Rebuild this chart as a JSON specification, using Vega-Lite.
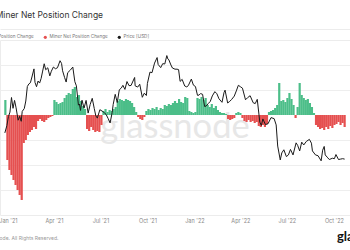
{
  "$schema": "https://vega.github.io/schema/vega-lite/v6.json",
  "width": 350,
  "height": 175,
  "autosize": {"type": "none"},
  "padding": {"top": 40, "left": 0, "right": 0, "bottom": 35},
  "background": "white",
  "config": {"view": {"stroke": "#ececec", "strokeWidth": 1}},
  "datasets": {
    "bars": [
      {"date": "2020-12-27", "change": 3750},
      {"date": "2020-12-31", "change": -11250},
      {"date": "2021-01-04", "change": -13750},
      {"date": "2021-01-08", "change": -15000},
      {"date": "2021-01-12", "change": -16250},
      {"date": "2021-01-16", "change": -17500},
      {"date": "2021-01-20", "change": -18750},
      {"date": "2021-01-24", "change": -20000},
      {"date": "2021-01-28", "change": -21250},
      {"date": "2021-02-01", "change": -7000},
      {"date": "2021-02-05", "change": -6250},
      {"date": "2021-02-09", "change": -5000},
      {"date": "2021-02-13", "change": -4250},
      {"date": "2021-02-17", "change": -3750},
      {"date": "2021-02-21", "change": -3000},
      {"date": "2021-02-25", "change": -3500},
      {"date": "2021-03-01", "change": -1500},
      {"date": "2021-03-05", "change": -1000},
      {"date": "2021-03-09", "change": -1500},
      {"date": "2021-03-13", "change": -1750},
      {"date": "2021-03-17", "change": -1250},
      {"date": "2021-03-21", "change": -750},
      {"date": "2021-03-25", "change": -500},
      {"date": "2021-03-29", "change": -250},
      {"date": "2021-04-02", "change": 3750},
      {"date": "2021-04-06", "change": 3250},
      {"date": "2021-04-10", "change": 2750},
      {"date": "2021-04-14", "change": 3000},
      {"date": "2021-04-18", "change": 3250},
      {"date": "2021-04-22", "change": 4250},
      {"date": "2021-04-26", "change": 5000},
      {"date": "2021-04-30", "change": 5500},
      {"date": "2021-05-04", "change": 5250},
      {"date": "2021-05-08", "change": 6500},
      {"date": "2021-05-12", "change": 7000},
      {"date": "2021-05-16", "change": 4500},
      {"date": "2021-05-20", "change": 5000},
      {"date": "2021-05-24", "change": 3500},
      {"date": "2021-05-28", "change": 2250},
      {"date": "2021-06-01", "change": 1500},
      {"date": "2021-06-05", "change": -3500},
      {"date": "2021-06-09", "change": -4000},
      {"date": "2021-06-13", "change": -3000},
      {"date": "2021-06-17", "change": -3750},
      {"date": "2021-06-21", "change": -4250},
      {"date": "2021-06-25", "change": -4000},
      {"date": "2021-06-29", "change": -4250},
      {"date": "2021-07-03", "change": -2500},
      {"date": "2021-07-07", "change": 1000},
      {"date": "2021-07-11", "change": 1500},
      {"date": "2021-07-15", "change": 750},
      {"date": "2021-07-19", "change": 1250},
      {"date": "2021-07-23", "change": 1000},
      {"date": "2021-07-27", "change": 1500},
      {"date": "2021-07-31", "change": 2000},
      {"date": "2021-08-04", "change": 3500},
      {"date": "2021-08-08", "change": 4000},
      {"date": "2021-08-12", "change": 3750},
      {"date": "2021-08-16", "change": 3500},
      {"date": "2021-08-20", "change": 4000},
      {"date": "2021-08-24", "change": 3750},
      {"date": "2021-08-28", "change": 3500},
      {"date": "2021-09-01", "change": 3000},
      {"date": "2021-09-05", "change": 2000},
      {"date": "2021-09-09", "change": 750},
      {"date": "2021-09-13", "change": -500},
      {"date": "2021-09-17", "change": -1000},
      {"date": "2021-09-21", "change": -1250},
      {"date": "2021-09-25", "change": -500},
      {"date": "2021-09-29", "change": 1000},
      {"date": "2021-10-03", "change": 1500},
      {"date": "2021-10-07", "change": 1250},
      {"date": "2021-10-11", "change": 1750},
      {"date": "2021-10-15", "change": 1500},
      {"date": "2021-10-19", "change": 2000},
      {"date": "2021-10-23", "change": 1250},
      {"date": "2021-10-27", "change": 1750},
      {"date": "2021-10-31", "change": 1500},
      {"date": "2021-11-04", "change": 2500},
      {"date": "2021-11-08", "change": 2250},
      {"date": "2021-11-12", "change": 2750},
      {"date": "2021-11-16", "change": 2500},
      {"date": "2021-11-20", "change": 3000},
      {"date": "2021-11-24", "change": 3500},
      {"date": "2021-11-28", "change": 3000},
      {"date": "2021-12-02", "change": 4000},
      {"date": "2021-12-06", "change": 3250},
      {"date": "2021-12-10", "change": 3000},
      {"date": "2021-12-14", "change": 4500},
      {"date": "2021-12-18", "change": 4250},
      {"date": "2021-12-22", "change": 1000},
      {"date": "2021-12-26", "change": 750},
      {"date": "2021-12-30", "change": 500},
      {"date": "2022-01-03", "change": 750},
      {"date": "2022-01-07", "change": 4250},
      {"date": "2022-01-11", "change": 4000},
      {"date": "2022-01-15", "change": 4500},
      {"date": "2022-01-19", "change": 3750},
      {"date": "2022-01-23", "change": 4250},
      {"date": "2022-01-27", "change": 2500},
      {"date": "2022-01-31", "change": 2000},
      {"date": "2022-02-04", "change": 2750},
      {"date": "2022-02-08", "change": 1750},
      {"date": "2022-02-12", "change": 2250},
      {"date": "2022-02-16", "change": 1250},
      {"date": "2022-02-20", "change": 750},
      {"date": "2022-02-24", "change": 500},
      {"date": "2022-02-28", "change": 500},
      {"date": "2022-03-04", "change": 250},
      {"date": "2022-03-08", "change": -1000},
      {"date": "2022-03-12", "change": -1250},
      {"date": "2022-03-16", "change": -1000},
      {"date": "2022-03-20", "change": -750},
      {"date": "2022-03-24", "change": 500},
      {"date": "2022-03-28", "change": 750},
      {"date": "2022-04-01", "change": 500},
      {"date": "2022-04-05", "change": -750},
      {"date": "2022-04-09", "change": -1500},
      {"date": "2022-04-13", "change": -1750},
      {"date": "2022-04-17", "change": -1250},
      {"date": "2022-04-21", "change": -1750},
      {"date": "2022-04-25", "change": -1500},
      {"date": "2022-04-29", "change": -2000},
      {"date": "2022-05-03", "change": -1750},
      {"date": "2022-05-07", "change": -2750},
      {"date": "2022-05-11", "change": -3000},
      {"date": "2022-05-15", "change": -2500},
      {"date": "2022-05-19", "change": -3000},
      {"date": "2022-05-23", "change": -2250},
      {"date": "2022-05-27", "change": 750},
      {"date": "2022-05-31", "change": 1000},
      {"date": "2022-06-04", "change": 1250},
      {"date": "2022-06-08", "change": 1750},
      {"date": "2022-06-12", "change": 2500},
      {"date": "2022-06-16", "change": 8000},
      {"date": "2022-06-20", "change": 3500},
      {"date": "2022-06-24", "change": 3750},
      {"date": "2022-06-28", "change": 3250},
      {"date": "2022-07-02", "change": 4250},
      {"date": "2022-07-06", "change": 5500},
      {"date": "2022-07-10", "change": 4000},
      {"date": "2022-07-14", "change": 2500},
      {"date": "2022-07-18", "change": -750},
      {"date": "2022-07-22", "change": 2000},
      {"date": "2022-07-26", "change": 8000},
      {"date": "2022-07-30", "change": 5000},
      {"date": "2022-08-03", "change": 4250},
      {"date": "2022-08-07", "change": 3750},
      {"date": "2022-08-11", "change": 4000},
      {"date": "2022-08-15", "change": 3000},
      {"date": "2022-08-19", "change": 2000},
      {"date": "2022-08-23", "change": 500},
      {"date": "2022-08-27", "change": -2500},
      {"date": "2022-08-31", "change": -3000},
      {"date": "2022-09-04", "change": -3500},
      {"date": "2022-09-08", "change": -3250},
      {"date": "2022-09-12", "change": -3750},
      {"date": "2022-09-16", "change": -3000},
      {"date": "2022-09-20", "change": -3500},
      {"date": "2022-09-24", "change": -2750},
      {"date": "2022-09-28", "change": -3250},
      {"date": "2022-10-02", "change": -2500},
      {"date": "2022-10-06", "change": -2250},
      {"date": "2022-10-10", "change": -1750},
      {"date": "2022-10-14", "change": -2500},
      {"date": "2022-10-18", "change": -2000},
      {"date": "2022-10-22", "change": -3000}
    ],
    "price": [
      {"date": "2020-12-26", "price": 26400},
      {"date": "2020-12-30", "price": 28900},
      {"date": "2021-01-02", "price": 32200},
      {"date": "2021-01-05", "price": 34000},
      {"date": "2021-01-08", "price": 40600},
      {"date": "2021-01-11", "price": 35600},
      {"date": "2021-01-14", "price": 39200},
      {"date": "2021-01-17", "price": 35800},
      {"date": "2021-01-21", "price": 30800},
      {"date": "2021-01-24", "price": 32300},
      {"date": "2021-01-27", "price": 30400},
      {"date": "2021-01-29", "price": 34300},
      {"date": "2021-02-02", "price": 35500},
      {"date": "2021-02-05", "price": 38900},
      {"date": "2021-02-08", "price": 46400},
      {"date": "2021-02-11", "price": 47900},
      {"date": "2021-02-14", "price": 48600},
      {"date": "2021-02-17", "price": 52100},
      {"date": "2021-02-21", "price": 57500},
      {"date": "2021-02-23", "price": 48800},
      {"date": "2021-02-26", "price": 46300},
      {"date": "2021-03-01", "price": 49600},
      {"date": "2021-03-04", "price": 48400},
      {"date": "2021-03-07", "price": 51200},
      {"date": "2021-03-10", "price": 56000},
      {"date": "2021-03-13", "price": 61200},
      {"date": "2021-03-16", "price": 56900},
      {"date": "2021-03-20", "price": 58300},
      {"date": "2021-03-24", "price": 52800},
      {"date": "2021-03-27", "price": 55900},
      {"date": "2021-03-31", "price": 58800},
      {"date": "2021-04-04", "price": 57600},
      {"date": "2021-04-08", "price": 58300},
      {"date": "2021-04-13", "price": 63500},
      {"date": "2021-04-16", "price": 61400},
      {"date": "2021-04-18", "price": 56200},
      {"date": "2021-04-22", "price": 51700},
      {"date": "2021-04-25", "price": 49000},
      {"date": "2021-04-28", "price": 54900},
      {"date": "2021-05-03", "price": 56600},
      {"date": "2021-05-08", "price": 58800},
      {"date": "2021-05-12", "price": 49200},
      {"date": "2021-05-15", "price": 46800},
      {"date": "2021-05-19", "price": 37000},
      {"date": "2021-05-21", "price": 37500},
      {"date": "2021-05-23", "price": 34700},
      {"date": "2021-05-26", "price": 39300},
      {"date": "2021-05-30", "price": 35700},
      {"date": "2021-06-03", "price": 39200},
      {"date": "2021-06-07", "price": 33600},
      {"date": "2021-06-11", "price": 37300},
      {"date": "2021-06-15", "price": 40200},
      {"date": "2021-06-19", "price": 35500},
      {"date": "2021-06-22", "price": 32500},
      {"date": "2021-06-25", "price": 31600},
      {"date": "2021-06-30", "price": 35000},
      {"date": "2021-07-06", "price": 34200},
      {"date": "2021-07-12", "price": 33100},
      {"date": "2021-07-16", "price": 31500},
      {"date": "2021-07-20", "price": 29800},
      {"date": "2021-07-24", "price": 33800},
      {"date": "2021-07-26", "price": 37300},
      {"date": "2021-07-30", "price": 42200},
      {"date": "2021-08-03", "price": 38200},
      {"date": "2021-08-07", "price": 44600},
      {"date": "2021-08-11", "price": 45600},
      {"date": "2021-08-14", "price": 47100},
      {"date": "2021-08-18", "price": 44800},
      {"date": "2021-08-22", "price": 49300},
      {"date": "2021-08-26", "price": 46900},
      {"date": "2021-08-30", "price": 47000},
      {"date": "2021-09-06", "price": 51800},
      {"date": "2021-09-07", "price": 46800},
      {"date": "2021-09-12", "price": 46100},
      {"date": "2021-09-16", "price": 47700},
      {"date": "2021-09-21", "price": 40700},
      {"date": "2021-09-25", "price": 42800},
      {"date": "2021-09-29", "price": 41600},
      {"date": "2021-10-01", "price": 48200},
      {"date": "2021-10-06", "price": 55300},
      {"date": "2021-10-10", "price": 54900},
      {"date": "2021-10-15", "price": 61700},
      {"date": "2021-10-20", "price": 66000},
      {"date": "2021-10-22", "price": 60700},
      {"date": "2021-10-27", "price": 58400},
      {"date": "2021-10-31", "price": 61300},
      {"date": "2021-11-04", "price": 61000},
      {"date": "2021-11-08", "price": 67600},
      {"date": "2021-11-10", "price": 64900},
      {"date": "2021-11-12", "price": 64200},
      {"date": "2021-11-16", "price": 60300},
      {"date": "2021-11-19", "price": 58100},
      {"date": "2021-11-24", "price": 57300},
      {"date": "2021-11-28", "price": 57300},
      {"date": "2021-12-01", "price": 57000},
      {"date": "2021-12-04", "price": 49400},
      {"date": "2021-12-08", "price": 50600},
      {"date": "2021-12-13", "price": 46700},
      {"date": "2021-12-17", "price": 46200},
      {"date": "2021-12-20", "price": 46900},
      {"date": "2021-12-26", "price": 50800},
      {"date": "2021-12-30", "price": 47200},
      {"date": "2022-01-03", "price": 46400},
      {"date": "2022-01-07", "price": 41700},
      {"date": "2022-01-10", "price": 41800},
      {"date": "2022-01-13", "price": 42600},
      {"date": "2022-01-17", "price": 42200},
      {"date": "2022-01-21", "price": 36400},
      {"date": "2022-01-24", "price": 36600},
      {"date": "2022-01-28", "price": 37700},
      {"date": "2022-02-01", "price": 38700},
      {"date": "2022-02-05", "price": 41400},
      {"date": "2022-02-10", "price": 43600},
      {"date": "2022-02-14", "price": 42500},
      {"date": "2022-02-18", "price": 40000},
      {"date": "2022-02-24", "price": 38300},
      {"date": "2022-02-28", "price": 43200},
      {"date": "2022-03-02", "price": 44400},
      {"date": "2022-03-07", "price": 38000},
      {"date": "2022-03-11", "price": 38700},
      {"date": "2022-03-15", "price": 39700},
      {"date": "2022-03-20", "price": 41300},
      {"date": "2022-03-24", "price": 44000},
      {"date": "2022-03-28", "price": 47100},
      {"date": "2022-04-01", "price": 46300},
      {"date": "2022-04-05", "price": 45500},
      {"date": "2022-04-11", "price": 39500},
      {"date": "2022-04-15", "price": 40500},
      {"date": "2022-04-20", "price": 41500},
      {"date": "2022-04-26", "price": 38100},
      {"date": "2022-04-30", "price": 37700},
      {"date": "2022-05-04", "price": 39700},
      {"date": "2022-05-09", "price": 30100},
      {"date": "2022-05-12", "price": 28900},
      {"date": "2022-05-15", "price": 31300},
      {"date": "2022-05-20", "price": 29200},
      {"date": "2022-05-25", "price": 29500},
      {"date": "2022-05-31", "price": 31800},
      {"date": "2022-06-06", "price": 31400},
      {"date": "2022-06-10", "price": 29100},
      {"date": "2022-06-13", "price": 22500},
      {"date": "2022-06-18", "price": 19000},
      {"date": "2022-06-21", "price": 20700},
      {"date": "2022-06-25", "price": 21500},
      {"date": "2022-06-30", "price": 19800},
      {"date": "2022-07-04", "price": 20200},
      {"date": "2022-07-08", "price": 21600},
      {"date": "2022-07-13", "price": 20200},
      {"date": "2022-07-19", "price": 23400},
      {"date": "2022-07-22", "price": 22700},
      {"date": "2022-07-26", "price": 21200},
      {"date": "2022-07-30", "price": 23600},
      {"date": "2022-08-03", "price": 22800},
      {"date": "2022-08-08", "price": 23800},
      {"date": "2022-08-14", "price": 24400},
      {"date": "2022-08-18", "price": 23300},
      {"date": "2022-08-20", "price": 21200},
      {"date": "2022-08-26", "price": 20200},
      {"date": "2022-08-31", "price": 20000},
      {"date": "2022-09-06", "price": 18800},
      {"date": "2022-09-09", "price": 21400},
      {"date": "2022-09-12", "price": 22400},
      {"date": "2022-09-14", "price": 20200},
      {"date": "2022-09-19", "price": 19500},
      {"date": "2022-09-22", "price": 19100},
      {"date": "2022-09-28", "price": 19400},
      {"date": "2022-10-02", "price": 19300},
      {"date": "2022-10-05", "price": 20300},
      {"date": "2022-10-10", "price": 19100},
      {"date": "2022-10-14", "price": 19200},
      {"date": "2022-10-18", "price": 19300},
      {"date": "2022-10-22", "price": 19200}
    ]
  },
  "layer": [
    {
      "layer": [
        {
          "data": {"values": [{}]},
          "mark": {"type": "text", "text": "glassnode", "font": "Lato", "fontSize": 34.5, "color": "#e7e7e7", "align": "center", "baseline": "alphabetic"},
          "encoding": {
            "x": {"datum": {"year": 2021, "month": 11, "date": 24, "utc": true}, "type": "temporal",
              "scale": {"type": "utc", "domain": [{"year": 2020, "month": 12, "date": 26, "hours": 7, "utc": true}, {"year": 2022, "month": 10, "date": 22, "hours": 17, "utc": true}]},
              "axis": {"orient": "bottom", "labelExpr": "utcFormat(datum.value, \"%b '%y\")", "title": null, "grid": false, "ticks": false, "domain": false, "labelFont": "Inter", "labelFontSize": 5.5, "labelColor": "#888888", "labelPadding": 3, "labelOverlap": false, "labelFlush": false,
                "values": [
                  {"year": 2021, "month": 1, "date": 1, "utc": true},
                  {"year": 2021, "month": 4, "date": 1, "utc": true},
                  {"year": 2021, "month": 7, "date": 1, "utc": true},
                  {"year": 2021, "month": 10, "date": 1, "utc": true},
                  {"year": 2022, "month": 1, "date": 1, "utc": true},
                  {"year": 2022, "month": 4, "date": 1, "utc": true},
                  {"year": 2022, "month": 7, "date": 1, "utc": true},
                  {"year": 2022, "month": 10, "date": 1, "utc": true}
                ]}},
            "y": {"datum": -5750, "type": "quantitative",
              "scale": {"domain": [-25000, 18750], "nice": false, "zero": false},
              "axis": {"title": null, "labels": false, "ticks": false, "domain": false, "grid": true, "gridColor": "#eeeeee", "values": [12500, 6250, -6250, -12500, -18750]}}
          }
        },
        {
          "data": {"name": "bars"},
          "transform": [{"filter": "datum.change >= 0"}],
          "mark": {"type": "bar", "width": 2.2},
          "encoding": {
            "x": {"field": "date", "type": "temporal"},
            "y": {"field": "change", "type": "quantitative"},
            "color": {"datum": "pos", "type": "nominal",
              "scale": {"domain": ["pos", "neg", "price"], "range": ["#4cbe89", "#e55050", "#1a1a1a"]},
              "legend": {"orient": "none", "legendX": -31, "legendY": -5, "direction": "horizontal", "title": null,
                "labelExpr": "datum.value == 'price' ? 'Price [USD]' : 'Miner Net Position Change'",
                "symbolType": "circle", "symbolSize": 10, "symbolStrokeWidth": 0, "symbolOpacity": 1,
                "labelFontSize": 4.6, "labelColor": "#777777", "labelFont": "Inter", "labelOffset": 2, "columnPadding": 9, "padding": 0,
                "encode": {"symbols": {"update": {"fill": {"scale": "color", "field": "value"}, "stroke": {"value": "transparent"}}}}}}
          }
        },
        {
          "data": {"name": "bars"},
          "transform": [{"filter": "datum.change < 0"}],
          "mark": {"type": "bar", "width": 2.2},
          "encoding": {
            "x": {"field": "date", "type": "temporal"},
            "y": {"field": "change", "type": "quantitative"},
            "color": {"datum": "neg", "type": "nominal"}
          }
        },
        {
          "mark": {"type": "rule", "color": "#3fae7a", "strokeWidth": 1},
          "encoding": {"y": {"datum": 0, "type": "quantitative"}}
        },
        {
          "data": {"values": [{}]},
          "mark": {"type": "text", "text": "Miner Net Position Change", "font": "Inter", "fontSize": 8.5, "color": "#333333", "align": "left", "baseline": "alphabetic"},
          "encoding": {
            "x": {"datum": {"year": 2020, "month": 12, "date": 8, "utc": true}, "type": "temporal"},
            "y": {"datum": 24250, "type": "quantitative"}
          }
        },
        {
          "data": {"values": [{}]},
          "mark": {"type": "text", "text": "© 2022 Glassnode. All Rights Reserved.", "font": "Inter", "fontSize": 5, "color": "#999999", "align": "right", "baseline": "alphabetic"},
          "encoding": {
            "x": {"datum": {"year": 2021, "month": 4, "date": 10, "utc": true}, "type": "temporal"},
            "y": {"datum": -31250, "type": "quantitative"}
          }
        },
        {
          "data": {"values": [{}]},
          "mark": {"type": "text", "text": "glassnode", "font": "Lato", "fontSize": 13, "fontWeight": "bold", "color": "#111111", "align": "left", "baseline": "alphabetic"},
          "encoding": {
            "x": {"datum": {"year": 2022, "month": 10, "date": 7, "utc": true}, "type": "temporal"},
            "y": {"datum": -31500, "type": "quantitative"}
          }
        }
      ]
    },
    {
      "data": {"name": "price"},
      "mark": {"type": "line", "strokeWidth": 1, "interpolate": "linear"},
      "encoding": {
        "x": {"field": "date", "type": "temporal",
          "axis": {"orient": "top", "offset": 11, "labels": false, "ticks": false, "grid": false, "domain": true, "domainColor": "#ececec", "title": null}},
        "y": {"field": "price", "type": "quantitative",
          "scale": {"type": "log", "domain": [9730, 81700], "nice": false},
          "axis": null},
        "color": {"datum": "price", "type": "nominal"}
      }
    }
  ],
  "resolve": {"scale": {"y": "independent"}, "axis": {"x": "independent"}}
}
